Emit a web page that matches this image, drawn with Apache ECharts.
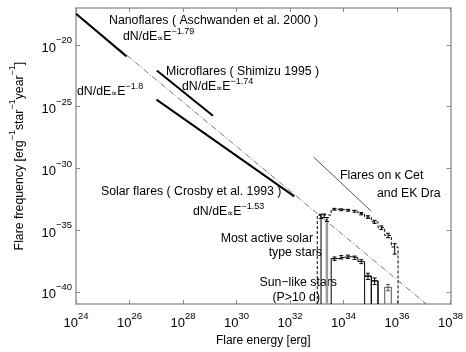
<!DOCTYPE html>
<html><head><meta charset="utf-8">
<script src="https://cdn.jsdelivr.net/npm/echarts@6/dist/echarts.min.js"></script>
<style>html,body{margin:0;padding:0;background:#fff}#chart{width:466px;height:352px}</style>
</head><body><div id="chart"></div>
<script>
// All values are log10: energy in erg, frequency in erg^-1 star^-1 year^-1
const xTicks = [24, 26, 28, 30, 32, 34, 36, 38];
const yTicks = [-40, -35, -30, -25, -20];

// power-law fits (end points)
const refLine = [[24, -17.42], [37.1, -41]];          // dN/dE ∝ E^-1.8
const nanoflares = [[24, -17.47], [25.89, -20.92]];
const microflares = [[27.02, -22.07], [29.12, -25.73]];
const solarFlares = [[27.01, -24.43], [32.16, -32.27]];
const kappaCet = [[32.88, -29.08], [35.04, -33.47]];

// most active solar-type stars (dashed histogram)
const activeEdges = [33.02, 33.54, 33.79, 34.04, 34.29, 34.54, 34.79, 35.04, 35.29, 35.54, 35.79, 36.04];
const activeFreq = [-33.78, -33.31, -33.35, -33.39, -33.47, -33.67, -33.94, -34.33, -34.80, -35.43, -36.37];
const activeErrLo = [-33.98, -33.39, -33.43, -33.47, -33.55, -33.77, -34.05, -34.46, -34.96, -35.62, -36.95];
const activeErrHi = [-33.70, -33.24, -33.28, -33.32, -33.40, -33.58, -33.84, -34.21, -34.66, -35.26, -36.10];

// Sun-like stars, P > 10 d (solid histogram)
const sunEdges = [33.54, 33.79, 34.04, 34.29, 34.54, 34.79, 35.04, 35.29];
const sunFreq = [-37.31, -37.20, -37.16, -37.24, -37.55, -38.73, -39.12];
const sunErrLo = [-37.45, -37.34, -37.30, -37.38, -37.72, -39.0, -39.42];
const sunErrHi = [-37.18, -37.07, -37.03, -37.11, -37.40, -38.50, -38.88];
const sunTailEdges = [35.54, 35.79];
const sunTailFreq = [-39.64];
const sunTailErrLo = [-39.92];
const sunTailErrHi = [-39.40];

// lowest-energy bins near 10^33 erg
const lowE = [33.16, 33.38];
const lowF = [-33.80, -34.12];
const lowErrLo = [-34.05, -34.30];
const lowErrHi = [-33.72, -33.98];

const BOTTOM = -41;

function stepPath(edges, vals) {
  const pts = [[edges[0], BOTTOM]];
  for (let i = 0; i < vals.length; i++) {
    pts.push([edges[i], vals[i]]);
    pts.push([edges[i + 1], vals[i]]);
  }
  pts.push([edges[edges.length - 1], BOTTOM]);
  return pts;
}
// separate open-bottom boxes, one per bin
function boxPath(edges, vals, from) {
  const pts = [];
  for (let i = from; i < vals.length; i++) {
    pts.push([edges[i], BOTTOM], [edges[i], vals[i]], [edges[i + 1], vals[i]], [edges[i + 1], BOTTOM], '-');
  }
  return pts;
}
function errData(edges, lo, hi) {
  return lo.map((v, i) => [(edges[i] + edges[i + 1]) / 2, v, hi[i]]);
}

const FONT = 'Liberation Sans';
const labRich = {
  b: { fontSize: 13, fontFamily: FONT, color: '#000', verticalAlign: 'bottom', lineHeight: 19 },
  s: { fontSize: 9.5, fontFamily: FONT, color: '#000', verticalAlign: 'top', lineHeight: 19 }
};
const fmt = (v) => '{b|10}{s|' + String(v).replace('-', '−') + '}';

const chart = echarts.init(document.getElementById('chart'));

function errSeries(data, color) {
  return {
    type: 'custom', data: data, silent: true, z: 5,
    renderItem: function (params, api) {
      const x = api.value(0);
      const lo = api.coord([x, api.value(1)]);
      const hi = api.coord([x, api.value(2)]);
      const w = 2;
      const st = { stroke: color, lineWidth: 1 };
      return {
        type: 'group',
        children: [
          { type: 'line', shape: { x1: lo[0], y1: lo[1], x2: hi[0], y2: hi[1] }, style: st },
          { type: 'line', shape: { x1: lo[0] - w, y1: lo[1], x2: lo[0] + w, y2: lo[1] }, style: st },
          { type: 'line', shape: { x1: hi[0] - w, y1: hi[1], x2: hi[0] + w, y2: hi[1] }, style: st }
        ]
      };
    }
  };
}

function lineSeries(data, style) {
  return {
    type: 'line', data: data, symbol: 'none', silent: true, animation: false,
    connectNulls: false, lineStyle: Object.assign({ color: '#000', width: 1 }, style)
  };
}

const axisLine = { show: true, lineStyle: { color: '#999', width: 1.5 } };
const tickStyle = { inside: true, length: 4, lineStyle: { color: '#888', width: 1 } };

chart.setOption({
  animation: false,
  grid: { left: 70, right: 13, top: 8, bottom: 38 },
  xAxis: [
    {
      type: 'value', min: 24, max: 38, position: 'bottom',
      axisLine: axisLine,
      axisTick: Object.assign({ customValues: xTicks }, tickStyle),
      axisLabel: { customValues: xTicks, formatter: fmt, rich: labRich, margin: 7 },
      splitLine: { show: false },
      name: 'Flare energy [erg]', nameLocation: 'middle', nameGap: 30,
      nameTextStyle: { fontSize: 12, fontFamily: FONT, color: '#000' }
    },
    {
      type: 'value', min: 24, max: 38, position: 'top',
      axisLine: axisLine,
      axisTick: Object.assign({ customValues: xTicks }, tickStyle),
      axisLabel: { show: false }, splitLine: { show: false }
    }
  ],
  yAxis: [
    {
      type: 'value', min: -41, max: -17, position: 'left',
      axisLine: axisLine,
      axisTick: Object.assign({ customValues: yTicks }, tickStyle),
      axisLabel: { customValues: yTicks, formatter: fmt, rich: labRich, margin: 4 },
      splitLine: { show: false },
      name: '{t|Flare frequency [erg}{s|−1}{t|star}{s|−1}{t|year}{s|−1}{t|]}',
      nameLocation: 'middle', nameGap: 50, nameRotate: 90,
      nameTextStyle: {
        rich: {
          t: { fontSize: 12.3, fontFamily: FONT, color: '#000', verticalAlign: 'bottom', lineHeight: 18 },
          s: { fontSize: 9, fontFamily: FONT, color: '#000', verticalAlign: 'top', lineHeight: 18 }
        }
      }
    },
    {
      type: 'value', min: -41, max: -17, position: 'right',
      axisLine: axisLine,
      axisTick: Object.assign({ customValues: yTicks }, tickStyle),
      axisLabel: { show: false }, splitLine: { show: false }
    }
  ],
  series: [
    lineSeries(refLine, { color: '#555', width: 0.8, type: [6, 2, 1, 2] }),
    lineSeries(nanoflares, { width: 2 }),
    lineSeries(microflares, { width: 2 }),
    lineSeries(solarFlares, { width: 2 }),
    lineSeries(kappaCet, { color: '#555', width: 1 }),
    lineSeries(stepPath(activeEdges, activeFreq), { type: [3, 2] }),
    lineSeries(stepPath(sunEdges, sunFreq), {}),
    lineSeries(boxPath(sunEdges, sunFreq, 5), {}),
    lineSeries(stepPath(sunTailEdges, sunTailFreq), { color: '#777', width: 1.3 }),
    lineSeries([[lowE[0], BOTTOM], [lowE[0], lowF[0]]], {}),
    lineSeries([[lowE[1], BOTTOM], [lowE[1], lowF[1]]], { color: '#9a9a9a', width: 2.5 }),
    errSeries(errData(activeEdges, activeErrLo, activeErrHi), '#000'),
    errSeries(errData(sunEdges, sunErrLo, sunErrHi), '#000'),
    errSeries(errData(sunTailEdges, sunTailErrLo, sunTailErrHi), '#555'),
    errSeries(lowE.map((e, i) => [e, lowErrLo[i], lowErrHi[i]]), '#000')
  ],
  graphic: (function () {
    const rich = {
      n: { fontSize: 12.3, fontFamily: FONT, fill: '#000', verticalAlign: 'bottom', lineHeight: 16 },
      p: { fontSize: 9, fontFamily: FONT, fill: '#000', verticalAlign: 'bottom', lineHeight: 15 },
      s: { fontSize: 9, fontFamily: FONT, fill: '#000', verticalAlign: 'top', lineHeight: 16 }
    };
    const law = (x, y, e) => ({
      type: 'text', x: x, y: y,
      style: { text: '{n|dN/dE}{p|∝}{n|E}{s|' + e + '}', rich: rich, fill: '#000', verticalAlign: 'middle' }
    });
    const txt = (x, y, t, align) => ({
      type: 'text', x: x, y: y,
      style: { text: t, fontSize: 12.3, fontFamily: FONT, fill: '#000', align: align || 'left', verticalAlign: 'middle' }
    });
    return [
      txt(109, 21, 'Nanoflares ( Aschwanden et al. 2000 )'),
      law(123, 35, '−1.79'),
      txt(166, 72, 'Microflares ( Shimizu 1995 )'),
      law(182, 85, '−1.74'),
      law(77, 90, '−1.8'),
      txt(101, 192, 'Solar flares ( Crosby et al. 1993 )'),
      law(193, 210, '−1.53'),
      txt(340, 176, 'Flares on κ Cet'),
      txt(377, 194, 'and EK Dra'),
      txt(313, 239, 'Most active solar', 'right'),
      txt(322, 253, 'type stars', 'right'),
      txt(337, 283, 'Sun−like stars', 'right'),
      txt(320, 298, '(P>10 d)', 'right')
    ];
  })()
});
</script>
</body></html>
